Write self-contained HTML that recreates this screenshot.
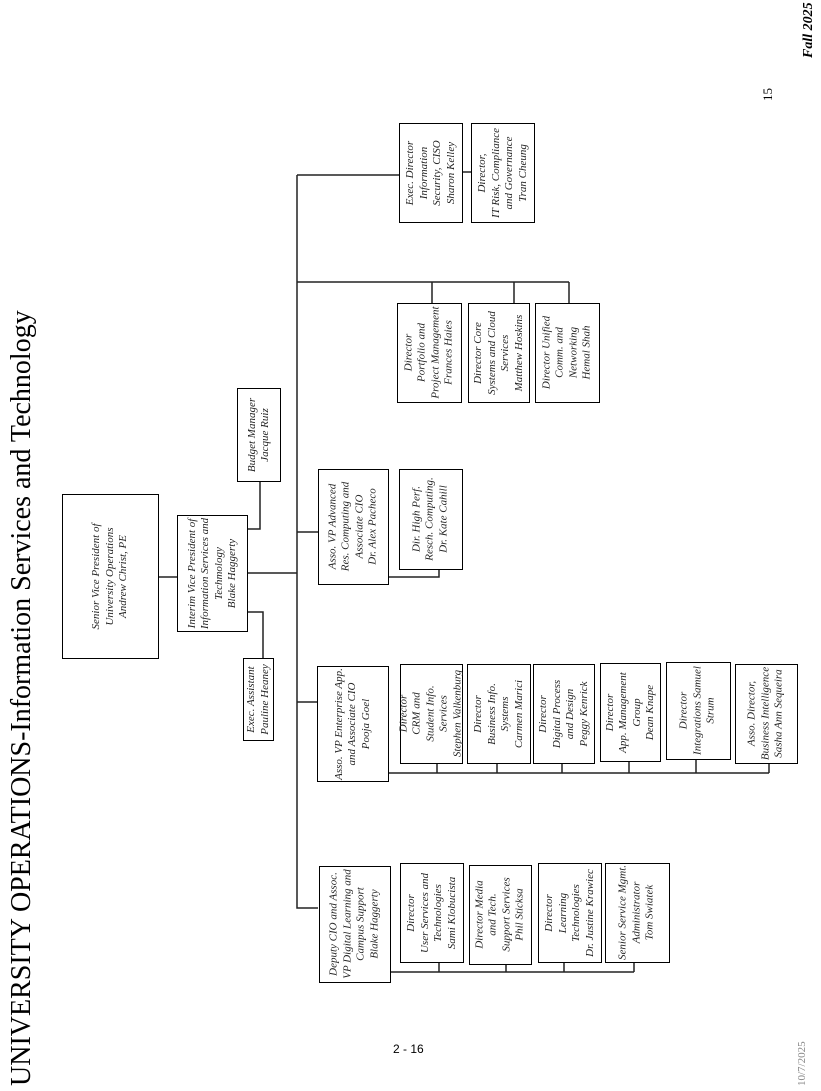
<!DOCTYPE html>
<html><head><meta charset="utf-8">
<style>
body{margin:0;width:821px;height:1091px;position:relative;background:#fff;overflow:hidden;font-family:"Liberation Serif",serif;}
.b{position:absolute;border:1.5px solid #000;box-sizing:border-box;background:#fff;}
.b>div{position:absolute;display:flex;align-items:center;justify-content:center;text-align:center;transform:rotate(-90deg);font-style:italic;font-size:11px;line-height:13.5px;color:#222;white-space:nowrap;}
.r{position:absolute;transform:rotate(-90deg);transform-origin:0 0;white-space:nowrap;}
svg{position:absolute;left:0;top:0;}
</style></head><body>
<svg width="821" height="1091"><g stroke="#222" stroke-width="1.5" fill="none">
<path d="M159 577H177"/>
<path d="M248 573H297M297 175V908H318"/>
<path d="M248 529H260V482"/>
<path d="M248 612H263V658"/>
<path d="M297 175H399M463 172H471"/>
<path d="M297 282H569M432 282V303M514 282V303M569 282V303"/>
<path d="M297 532H318M389 577H439V570"/>
<path d="M297 702H317M389 773H769M437 764V773M497 764V773M562 764V773M629 762V773M696 760V773M769 764V773"/>
<path d="M391 972H634M439 963V972M506 965V972M564 963V972M634 963V972"/>
</g></svg>

<div class="r" style="left:6px;top:1086px;font-size:28px;">UNIVERSITY OPERATIONS-Information Services and Technology</div>
<div class="r" style="left:801px;top:58px;font-size:14px;font-weight:bold;font-style:italic;">Fall 2025</div>
<div class="r" style="left:760px;top:101px;font-size:13px;">15</div>
<div class="r" style="left:796px;top:1086px;font-size:11px;color:#888;">10/7/2025</div>
<div style="position:absolute;left:393px;top:1042px;font-family:'Liberation Sans',sans-serif;font-size:12px;">2 - 16</div>

<script>
const B=[
[62,494,159,659,"Senior Vice President of<br>University Operations<br>Andrew Christ, PE"],
[177,515,248,632,"Interim Vice President of<br>Information Services and<br>Techmology<br>Blake Haggerty"],
[237,388,281,482,"Budget Manager<br>Jacque Ruiz"],
[243,658,274,741,"Exec. Assistant<br>Pauline Heaney"],
[399,123,463,223,"Exec. Director<br>Information<br>Security, CISO<br>Sharon Kelley"],
[471,123,535,223,"Director,<br>IT Risk, Compliance<br>and Governance<br>Tran Cheung"],
[397,303,462,403,"Director<br>Portfolio and<br>Project Management<br>Frances Haies"],
[468,303,530,403,"Director Core<br>Systems and Cloud<br>Services<br>Matthew Hoskins"],
[535,303,600,403,"Director Unified<br>Comm. and<br>Networking<br>Hemal Shah"],
[318,469,389,585,"Asso. VP Advanced<br>Res. Computing and<br>Associate CIO<br>Dr. Alex Pacheco"],
[399,469,463,570,"Dir. High Perf.<br>Resch. Computing.<br>Dr. Kate Cahill"],
[317,666,389,782,"Asso. VP Enterprise App.<br>and Associate CIO<br>Pooja Goel"],
[400,664,463,764,"Director<br>CRM and<br>Student Info.<br>Services<br>Stephen Valkenburg"],
[467,664,531,764,"Director<br>Business Info.<br>Systems<br>Carmen Marici"],
[533,664,595,764,"Director<br>Digital Process<br>and Design<br>Peggy Kenrick"],
[600,663,661,762,"Director<br>App. Management<br>Group<br>Dean Knape"],
[666,662,731,760,"Director<br>Integrations Samuel<br>Strum"],
[735,664,798,764,"Asso. Director,<br>Business Intelligence<br>Sasha Ann Sequeira"],
[319,866,391,983,"Deputy CIO and Assoc.<br>VP Digital Learning and<br>Campus Support<br>Blake Haggerty"],
[400,863,464,963,"Director<br>User Services and<br>Technologies<br>Sami Klobucista"],
[469,865,532,965,"Director Media<br>and Tech.<br>Support Services<br>Phil Sticksa"],
[538,863,602,963,"Director<br>Learning<br>Technologies<br>Dr. Justine Krawiec"],
[605,863,670,963,"Senior Service Mgmt.<br>Administrator<br>Tom Swiatek"]
];
let h="";
for(const [x1,y1,x2,y2,t] of B){const w=x2-x1,hh=y2-y1;
h+=`<div class="b" style="left:${x1}px;top:${y1}px;width:${w}px;height:${hh}px"><div style="width:${hh}px;height:${w}px;left:${(w-hh)/2-1.5}px;top:${(hh-w)/2-1.5}px">${t}</div></div>`;}
document.body.insertAdjacentHTML("beforeend",h);
</script>
</body></html>
